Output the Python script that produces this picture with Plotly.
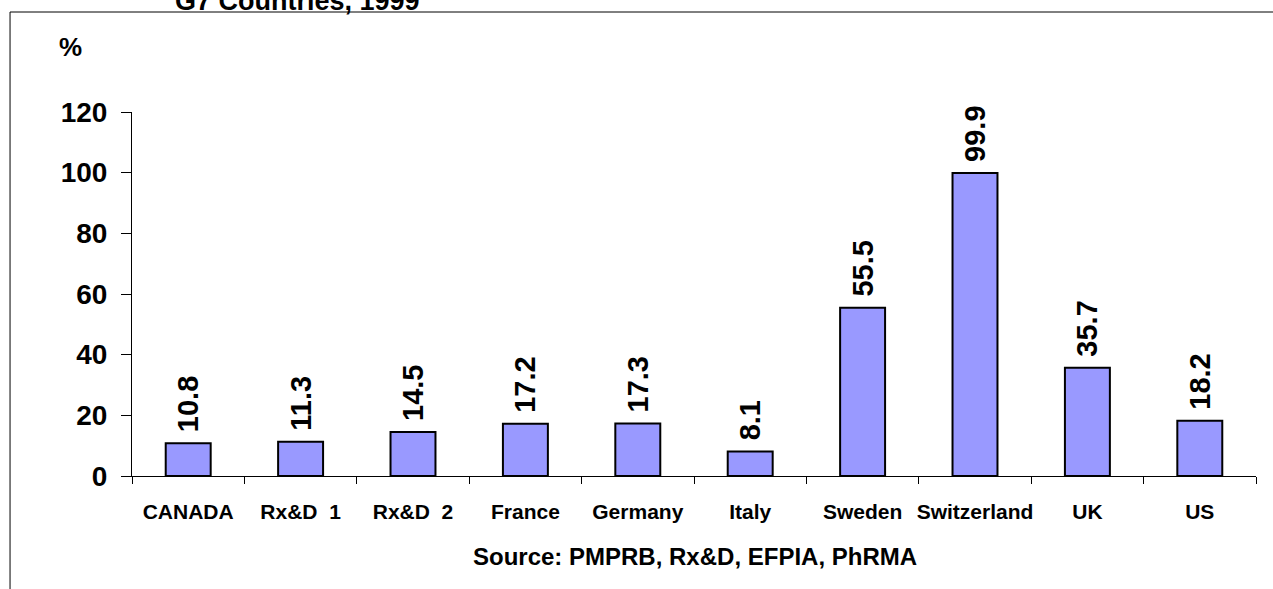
"""Share of R&D to sales, G7 countries, bar chart."""

import plotly.graph_objects as go

countries = ["CANADA", "Rx&D  1", "Rx&D  2", "France", "Germany", "Italy",
             "Sweden", "Switzerland", "UK", "US"]
values = [10.8, 11.3, 14.5, 17.2, 17.3, 8.1, 55.5, 99.9, 35.7, 18.2]
y_ticks = [0, 20, 40, 60, 80, 100, 120]

FONT = "Liberation Sans, Arial, sans-serif"

fig = go.Figure(
    go.Bar(
        x=countries,
        y=values,
        # a no-break space keeps the rotated label clear of the bar top
        text=["\u00a0" + f"{v:.1f}" for v in values],
        textposition="outside",
        textangle=-90,
        constraintext="none",
        cliponaxis=False,
        textfont=dict(family=FONT, size=29, color="black", weight="bold"),
        marker=dict(color="#9999FF", line=dict(color="black", width=2)),
        hoverinfo="skip",
    )
)

fig.update_layout(
    width=1273,
    height=589,
    margin=dict(l=132, r=17, t=112, b=113),
    paper_bgcolor="white",
    plot_bgcolor="white",
    bargap=0.6,
    showlegend=False,
    font=dict(family=FONT, color="black"),
)

fig.update_xaxes(
    showline=True,
    linecolor="black",
    linewidth=1,
    ticks="outside",
    tickson="boundaries",
    ticklen=7,
    tickcolor="black",
    tickangle=0,
    tickfont=dict(family=FONT, size=21, weight="bold"),
    ticklabelstandoff=17,
    showgrid=False,
)
fig.update_yaxes(
    range=[0, 120],
    tickvals=y_ticks,
    showline=True,
    linecolor="black",
    linewidth=1,
    ticks="outside",
    ticklen=10,
    tickcolor="black",
    tickfont=dict(family=FONT, size=28, weight="bold"),
    ticklabelstandoff=8,
    showgrid=False,
    zeroline=False,
)

# outer frame, spilling past the right and bottom of the page
fig.add_shape(type="rect", xref="paper", yref="paper",
              x0=-0.1085, x1=1.05, y0=-0.4, y1=1.2747,
              line=dict(color="black", width=1), fillcolor="rgba(0,0,0,0)",
              layer="below")

# title, mostly cut off at the top edge
fig.add_annotation(text="G7 Countries, 1999", xref="paper", yref="paper",
                   x=(297 - 132) / 1124, y=(476 - 18) / 364,
                   xanchor="center", yanchor="bottom", showarrow=False,
                   font=dict(family=FONT, size=27, weight="bold"))

fig.add_annotation(text="%", xref="paper", yref="paper",
                   x=(70 - 132) / 1124, y=(476 - 47) / 364,
                   xanchor="center", yanchor="middle", showarrow=False,
                   font=dict(family=FONT, size=26, weight="bold"))

fig.add_annotation(text="Source: PMPRB, Rx&D, EFPIA, PhRMA", xref="paper", yref="paper",
                   x=(695 - 132) / 1124, y=(476 - 556) / 364,
                   xanchor="center", yanchor="middle", showarrow=False,
                   font=dict(family=FONT, size=24, weight="bold"))

fig.write_html("out.html", config={"displayModeBar": False},
               post_script="document.body.style.margin='0px';")
